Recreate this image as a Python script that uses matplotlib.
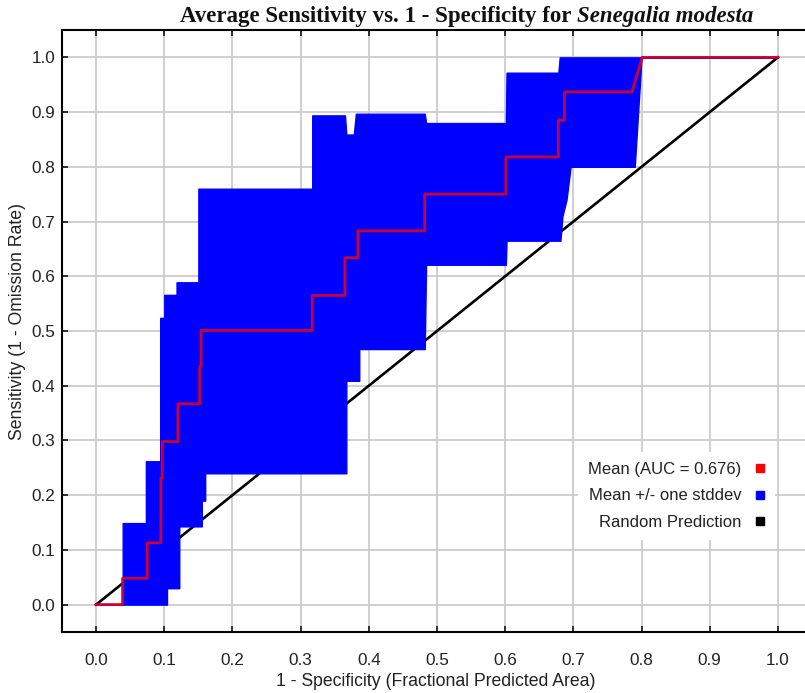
import numpy as np
import matplotlib
matplotlib.use('Agg')
import matplotlib.pyplot as plt
from matplotlib.lines import Line2D
from matplotlib.ticker import FormatStrFormatter

# Mean ROC curve (step corners)
mean_fpr = [0.0, 0.039, 0.039, 0.075, 0.075, 0.095, 0.095, 0.097, 0.097, 0.120, 0.120,
            0.152, 0.152, 0.154, 0.154, 0.317, 0.317, 0.365, 0.365, 0.384, 0.384,
            0.482, 0.482, 0.601, 0.601, 0.678, 0.678, 0.687, 0.687, 0.786, 0.801, 1.0]
mean_tpr = [0.0, 0.0, 0.048, 0.048, 0.113, 0.113, 0.231, 0.231, 0.298, 0.298, 0.367,
            0.367, 0.435, 0.435, 0.501, 0.501, 0.565, 0.565, 0.634, 0.634, 0.683,
            0.683, 0.750, 0.750, 0.818, 0.818, 0.885, 0.885, 0.937, 0.937, 1.0, 1.0]

# Mean +/- one stddev band
band_fpr = [0.0, 0.039, 0.039, 0.073, 0.073, 0.094, 0.094, 0.100, 0.100, 0.104, 0.104,
            0.118, 0.118, 0.122, 0.122, 0.150, 0.150, 0.155, 0.155, 0.160, 0.160,
            0.317, 0.317, 0.365, 0.367, 0.367, 0.378, 0.381, 0.386, 0.386, 0.482,
            0.484, 0.601, 0.602, 0.678, 0.680, 0.681, 0.684, 0.690, 0.696, 0.790,
            0.800, 1.0]
band_lo = [0.0, 0.0, 0.0, 0.0, 0.0, 0.0, 0.0, 0.0, 0.0, 0.0, 0.030,
           0.030, 0.030, 0.030, 0.143, 0.143, 0.143, 0.143, 0.190, 0.190, 0.240,
           0.240, 0.240, 0.240, 0.240, 0.409, 0.409, 0.409, 0.409, 0.467, 0.467,
           0.621, 0.621, 0.665, 0.665, 0.665, 0.665, 0.710, 0.740, 0.800, 0.800,
           1.0, 1.0]
band_hi = [0.0, 0.0, 0.149, 0.149, 0.262, 0.262, 0.524, 0.524, 0.566, 0.566, 0.566,
           0.566, 0.589, 0.589, 0.589, 0.589, 0.760, 0.760, 0.760, 0.760, 0.760,
           0.760, 0.894, 0.894, 0.859, 0.859, 0.859, 0.897, 0.897, 0.897, 0.897,
           0.880, 0.880, 0.972, 0.972, 1.0, 1.0, 1.0, 1.0, 1.0, 1.0,
           1.0, 1.0]

auc = 0.676
species = 'Senegalia modesta'

W, H = 805, 693
fig = plt.figure(figsize=(W / 100, H / 100), dpi=100)
ax = fig.add_axes([62 / W, 61 / H, 750 / W, 602 / H])
ax.set_xlim(-0.05, 1.05)
ax.set_ylim(-0.05, 1.05)

ticks = np.round(np.arange(0, 1.01, 0.1), 1)
ax.set_xticks(ticks)
ax.set_yticks(ticks)
ax.xaxis.set_major_formatter(FormatStrFormatter('%.1f'))
ax.yaxis.set_major_formatter(FormatStrFormatter('%.1f'))
ax.tick_params(direction='in', length=4.5, width=1.3, top=True, right=False,
               labelsize=12.3, colors='#222222')
ax.tick_params(axis='x', pad=15)
ax.tick_params(axis='y', pad=5)
for lab in ax.get_xticklabels() + ax.get_yticklabels():
    lab.set_fontfamily('Liberation Sans')
for s in ax.spines.values():
    s.set_linewidth(1.5)
ax.spines['right'].set_visible(False)
ax.grid(True, color='#cccccc', linewidth=1.3)
ax.set_axisbelow(True)

ax.plot([0, 1], [0, 1], color='black', linewidth=1.9, zorder=2)
ax.fill_between(band_fpr, band_lo, band_hi, color='#0000ff', linewidth=1.0,
                edgecolor='#0000ff', zorder=3)
ax.plot(mean_fpr, mean_tpr, color='#0000ff', linewidth=1.6, zorder=4)
ax.plot(mean_fpr, mean_tpr, color='#ff0000', alpha=0.8, linewidth=2.0, zorder=5)

# legend: label then colour square, right aligned
handles = [Line2D([], [], marker='s', linestyle='none', color=c, markersize=6)
           for c in ['#ff0000', '#0000ff', '#000000']]
labels = ['Mean (AUC = %.3f)' % auc, 'Mean +/- one stddev', 'Random Prediction']
leg = ax.legend(handles, labels, markerfirst=False, loc='center right',
                bbox_to_anchor=((775 - 62) / 750, 1 - (496 - 30) / 602),
                frameon=True, facecolor='white', edgecolor='none', framealpha=1,
                fancybox=False, handlelength=0.6, handletextpad=0.8,
                labelspacing=0.68, borderpad=0.6, borderaxespad=0,
                prop={'family': 'Liberation Sans', 'size': 12})
for t in leg.get_texts():
    t.set_color('#222222')

fig.text(436 / W, 1 - 681 / H, '1 - Specificity (Fractional Predicted Area)',
         ha='center', va='center', fontsize=12.7, family='Liberation Sans', color='#222222')
fig.text(18 / W, 1 - 322 / H, 'Sensitivity (1 - Omission Rate)', rotation=90,
         ha='center', va='center', fontsize=12.7, family='Liberation Sans', color='#222222')

# title: regular part followed by italic species name
r = fig.canvas.get_renderer()
t1 = fig.text(180 / W, 1 - 22 / H, 'Average Sensitivity vs. 1 - Specificity for ',
              ha='left', va='baseline', fontsize=16.5, fontweight='bold',
              family='Liberation Serif', color='#111111')
bb = t1.get_window_extent(renderer=r)
fig.text(bb.x1 / W, 1 - 22 / H, species, ha='left', va='baseline', fontsize=16.5,
         fontweight='bold', fontstyle='italic', family='Liberation Serif', color='#111111')

fig.savefig('out.png', dpi=100)
